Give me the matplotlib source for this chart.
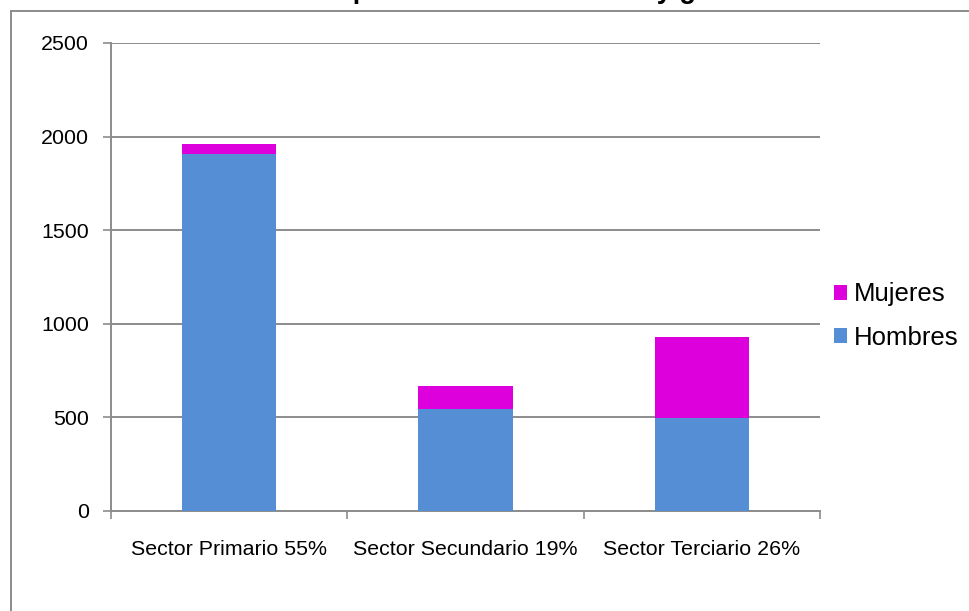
import matplotlib
matplotlib.use("Agg")
import matplotlib.pyplot as plt
from matplotlib.lines import Line2D
from matplotlib.patches import Patch
import numpy as np

plt.rcParams['font.family'] = ['Liberation Sans', 'DejaVu Sans']

categories = ["Sector Primario 55%", "Sector Secundario 19%", "Sector Terciario 26%"]
hombres = [1906, 543, 498]
mujeres = [54, 126, 430]
yticks = [0, 500, 1000, 1500, 2000, 2500]
title = "Población por sector de actividad y género"

blue = "#558ed5"
magenta = "#dd00dd"
gray = "#8c8c8c"

W, H = 970, 611
fig = plt.figure(figsize=(W / 100, H / 100), dpi=100)
fig.patch.set_facecolor("white")

ax = fig.add_axes([111 / W, (H - 511) / H, 709 / W, 468 / H])
x = np.arange(len(categories))
ax.bar(x, hombres, width=0.4, color=blue, label="Hombres", zorder=3)
ax.bar(x, mujeres, width=0.4, bottom=hombres, color=magenta, label="Mujeres", zorder=3)

ax.set_xlim(-0.5, len(categories) - 0.5)
ax.set_ylim(0, 2500)
ax.set_yticks(yticks)
ax.set_yticklabels([str(v) for v in yticks])
ax.yaxis.grid(True, color=gray, linewidth=1.4, zorder=0)
ax.set_axisbelow(True)

ax.set_xticks(np.arange(-0.5, len(categories), 1.0))
ax.set_xticklabels([])
ax.set_xticks(x, minor=True)
ax.set_xticklabels(categories, minor=True)
ax.tick_params(axis='x', which='major', length=6, width=1.2, color=gray, direction='out')
ax.tick_params(axis='x', which='minor', length=0, pad=21, labelsize=15.4)
ax.tick_params(axis='y', length=6, width=1.2, color=gray, direction='out', pad=10, labelsize=15.4)

for s in ['top', 'right']:
    ax.spines[s].set_visible(False)
for s in ['left', 'bottom']:
    ax.spines[s].set_color(gray)
    ax.spines[s].set_linewidth(1.4)

handles = [Patch(facecolor=magenta, label="Mujeres"), Patch(facecolor=blue, label="Hombres")]
leg = fig.legend(handles=handles, loc='center left',
                 bbox_to_anchor=(824 / W, 1 - 316 / H), frameon=False,
                 fontsize=18.5, handlelength=0.5, handleheight=0.5,
                 handletextpad=0.25, labelspacing=0.75, borderaxespad=0)

# outer chart frame (top and left edges visible)
fig.add_artist(Line2D([11 / W, 1.0], [1 - 11 / H, 1 - 11 / H], color=gray, linewidth=1.4,
                      transform=fig.transFigure))
fig.add_artist(Line2D([11 / W, 11 / W], [0, 1 - 11 / H], color=gray, linewidth=1.4,
                      transform=fig.transFigure))

fig.text(493 / W, 1 + 2.0 / H, title, ha='center', va='baseline',
         fontsize=19.5, fontweight='bold')

fig.savefig("out.png", dpi=100)
